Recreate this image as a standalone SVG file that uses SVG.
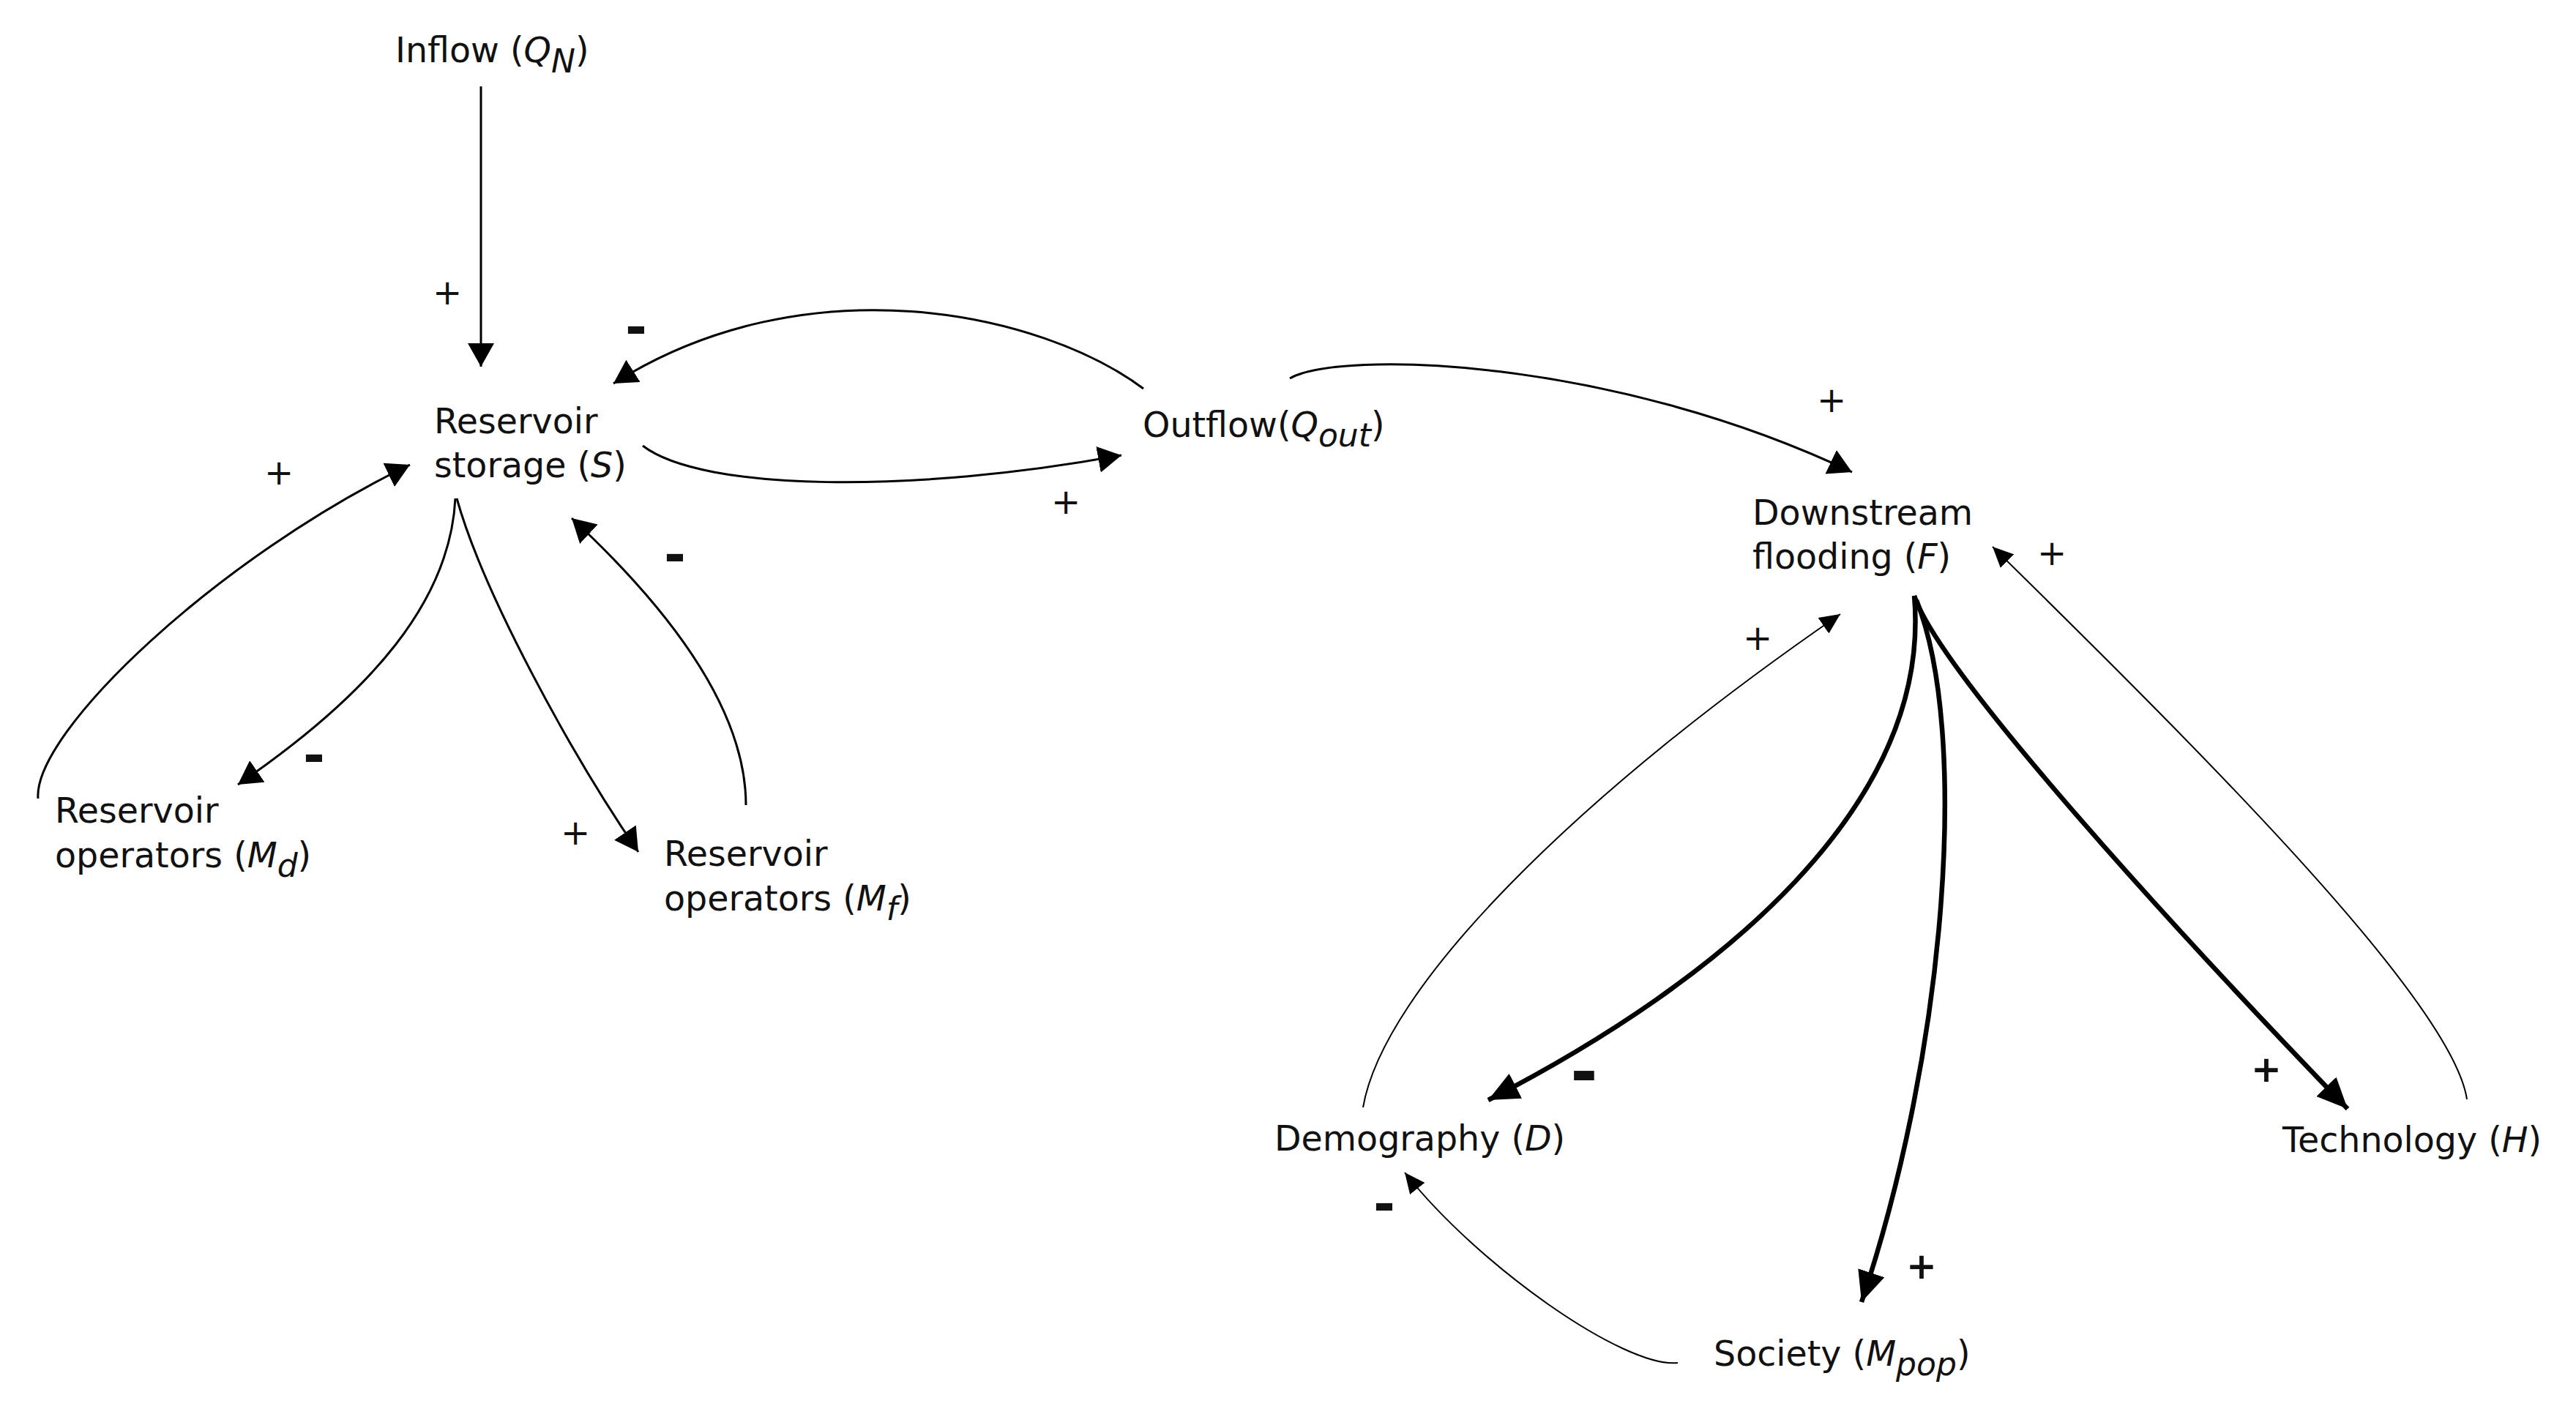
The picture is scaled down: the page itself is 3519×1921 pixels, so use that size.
<svg xmlns="http://www.w3.org/2000/svg" width="3519" height="1921" viewBox="0 0 3519 1921">
<style>
text{font-family:"DejaVu Sans","Verdana","Liberation Sans",sans-serif;font-size:47.5px;fill:#111}
.it{font-style:italic}
.sub{font-style:italic;font-size:44px}
.med{fill:none;stroke:#000;stroke-width:3}
.thin{fill:none;stroke:#000;stroke-width:2}
.thick{fill:none;stroke:#000;stroke-width:6.5}
.pl{font-size:48px;text-anchor:middle}
.plb{font-size:50px;font-weight:bold;text-anchor:middle}
.mi{font-size:72px;font-weight:bold;text-anchor:middle}
.mib{font-size:90px;font-weight:bold;text-anchor:middle}
</style>
<defs>
<marker id="am" markerUnits="userSpaceOnUse" markerWidth="32" markerHeight="36" viewBox="0 0 32 36" refX="32" refY="18" orient="auto"><path d="M0,0 L32,18 L0,36 z" fill="#000"/></marker>
<marker id="at" markerUnits="userSpaceOnUse" markerWidth="28" markerHeight="26" viewBox="0 0 28 26" refX="28" refY="13" orient="auto"><path d="M0,0 L28,13 L0,26 z" fill="#000"/></marker>
<marker id="ak" markerUnits="userSpaceOnUse" markerWidth="42" markerHeight="38" viewBox="0 0 42 38" refX="42" refY="19" orient="auto"><path d="M0,0 L42,19 L0,38 z" fill="#000"/></marker>
</defs>
<rect width="3519" height="1921" fill="#fff"/>

<g id="connectors">
<path class="med" d="M657,118 L657,501" marker-end="url(#am)"/>
<path class="med" d="M1562,531 C1420,425 1100,358 838,524" marker-end="url(#am)"/>
<path class="med" d="M878,609 C960,672 1250,674 1532,622" marker-end="url(#am)"/>
<path class="med" d="M1762,517 C1830,478 2200,488 2530,645" marker-end="url(#am)"/>
<path class="med" d="M52,1091 C45,1000 300,760 560,635" marker-end="url(#am)"/>
<path class="med" d="M622,681 C615,820 510,945 325,1072" marker-end="url(#am)"/>
<path class="med" d="M624,681 C660,810 780,1030 872,1164" marker-end="url(#am)"/>
<path class="med" d="M1019,1100 C1019,950 880,800 781,708" marker-end="url(#am)"/>
<path class="thick" d="M2615,814 C2640,1100 2350,1340 2033,1503" marker-end="url(#ak)"/>
<path class="thick" d="M2618,820 C2690,1000 2660,1430 2543,1779" marker-end="url(#ak)"/>
<path class="thick" d="M2615,814 C2650,920 2980,1280 3207,1515" marker-end="url(#ak)"/>
<path class="thin" d="M3370,1502 C3350,1370 3020,1040 2722,747" marker-end="url(#at)"/>
<path class="thin" d="M1862,1513 C1890,1350 2150,1090 2514,839" marker-end="url(#at)"/>
<path class="thin" d="M2292,1862 C2220,1870 2020,1730 1919,1602" marker-end="url(#at)"/>
</g>

<g id="polarity-labels">
<text class="pl" x="611" y="416">+</text>
<text class="mi" x="869" y="471">-</text>
<text class="pl" x="1456" y="702">+</text>
<text class="pl" x="2502" y="563">+</text>
<text class="pl" x="381" y="662">+</text>
<text class="mi" x="429" y="1056">-</text>
<text class="pl" x="786" y="1154">+</text>
<text class="mi" x="922" y="782">-</text>
<text class="mib" x="2164" y="1496">-</text>
<text class="plb" x="2625" y="1747">+</text>
<text class="plb" x="3096" y="1478">+</text>
<text class="pl" x="2803" y="772">+</text>
<text class="pl" x="2401" y="888">+</text>
<text class="mi" x="1891" y="1669">-</text>
</g>

<g id="node-inflow"><text x="540" y="85">Inflow (<tspan class="it">Q</tspan><tspan class="sub" dy="14">N</tspan><tspan dy="-14">)</tspan></text></g>
<g id="node-storage"><text x="593" y="592">Reservoir</text><text x="593" y="652">storage (<tspan class="it">S</tspan>)</text></g>
<g id="node-outflow"><text x="1561" y="597">Outflow(<tspan class="it">Q</tspan><tspan class="sub" dy="13">out</tspan><tspan dy="-13">)</tspan></text></g>
<g id="node-flooding"><text x="2394" y="717">Downstream</text><text x="2394" y="777">flooding (<tspan class="it">F</tspan>)</text></g>
<g id="node-md"><text x="75" y="1124">Reservoir</text><text x="75" y="1185">operators (<tspan class="it">M</tspan><tspan class="sub" dy="13">d</tspan><tspan dy="-13">)</tspan></text></g>
<g id="node-mf"><text x="907" y="1183">Reservoir</text><text x="907" y="1244">operators (<tspan class="it">M</tspan><tspan class="sub" dy="13">f</tspan><tspan dy="-13">)</tspan></text></g>
<g id="node-demography"><text x="1741" y="1572">Demography (<tspan class="it">D</tspan>)</text></g>
<g id="node-society"><text x="2341" y="1866">Society (<tspan class="it">M</tspan><tspan class="sub" dy="13">pop</tspan><tspan dy="-13">)</tspan></text></g>
<g id="node-technology"><text x="3118" y="1574">Technology (<tspan class="it">H</tspan>)</text></g>
</svg>
